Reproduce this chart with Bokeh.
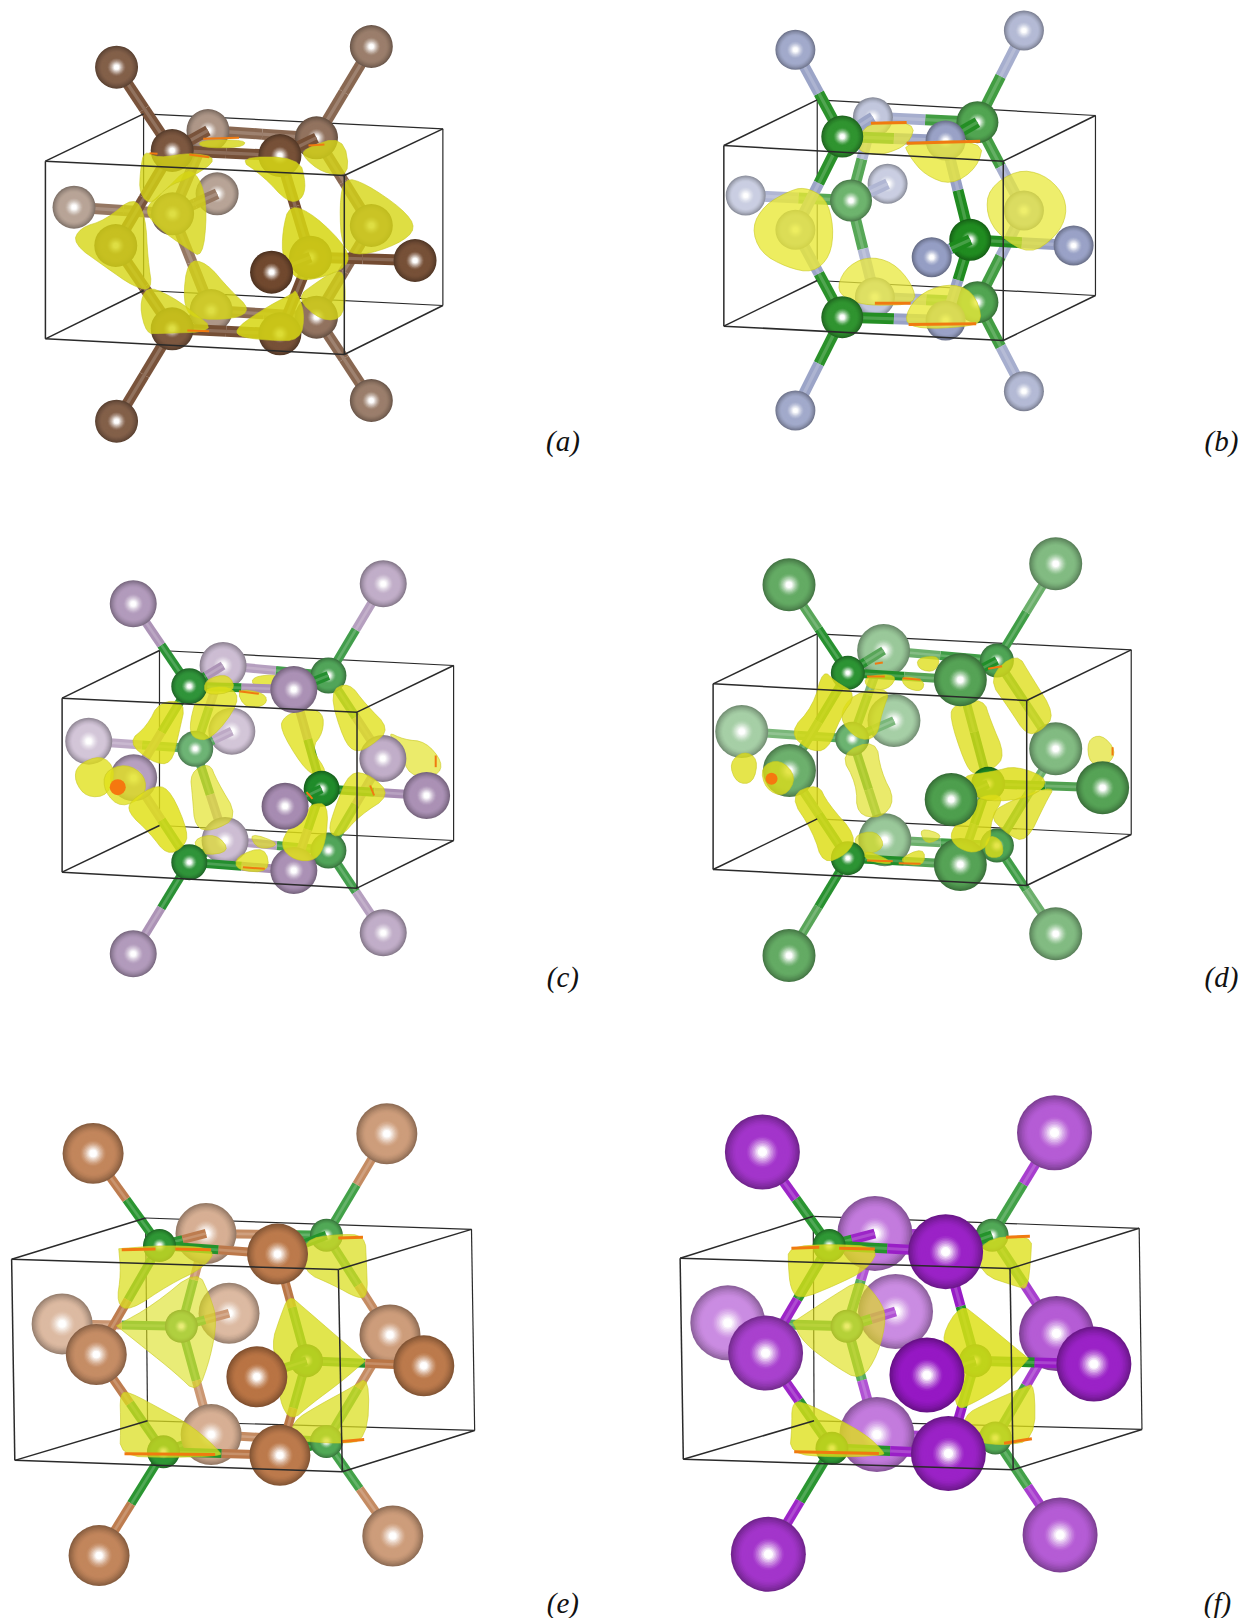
# -*- coding: utf-8 -*-
from bokeh.core.properties import value
from bokeh.embed import file_html
from bokeh.plotting import figure
from bokeh.resources import INLINE

# atoms are always listed in this order, x1-x14 are the halide/pnictide sites, g1-g6 the ones bonded to 4 of them
atom_names = ["x1", "x2", "x3", "x4", "x5", "x6", "x7", "x8", "x9", "x10", "x11", "x12", "x13", "x14",
              "g1", "g2", "g3", "g4", "g5", "g6"]
bond_pairs = [("g1", "x1"), ("g1", "x5"), ("g1", "x6"), ("g1", "x9"),
              ("g2", "x2"), ("g2", "x5"), ("g2", "x6"), ("g2", "x10"),
              ("g3", "x5"), ("g3", "x7"), ("g3", "x8"), ("g3", "x13"),
              ("g4", "x6"), ("g4", "x11"), ("g4", "x12"), ("g4", "x14"),
              ("g5", "x3"), ("g5", "x9"), ("g5", "x13"), ("g5", "x14"),
              ("g6", "x4"), ("g6", "x10"), ("g6", "x13"), ("g6", "x14")]
# these point at the viewer, so they lie over the far atom
stub_bonds = [("g1", "x5"), ("g2", "x6"), ("g3", "x8"), ("g4", "x11")]
# depth of each atom, 0 is far away, 10 is nearest
atom_depth = [6, 3, 6, 3, 1, 8, 0, 0, 5, 3, 10, 8, 1, 8,
              7, 4, 2, 9, 7, 4]

# (a)
a_x = [292, 933, 292, 933, 522, 703, 185, 545, 290, 933, 682, 1043, 530, 703,
       432, 795, 433, 780, 432, 795]
a_y = [200, 138, 1262, 1200, 390, 465, 620, 580, 735, 675, 815, 780, 930, 1000,
       450, 412, 640, 770, 985, 950]
a_front = [(113, 482), (865, 525), (865, 1062), (113, 1015)]
a_back = [(360, 340), (1113, 385), (1113, 915), (360, 870)]
a_lobes = [
    (5.5, [(330, 610), (355, 660), (360, 770), (370, 850), (330, 840), (270, 790), (200, 730), (215, 690), (270, 670)]),
    (5.5, [(470, 520), (500, 560), (510, 640), (500, 750), (470, 730), (400, 670), (375, 625), (420, 580)]),
    (5.5, [(480, 795), (520, 800), (570, 870), (615, 920), (580, 945), (490, 945), (470, 900)]),
    (7.5, [(375, 870), (420, 890), (470, 930), (525, 985), (400, 990), (375, 990), (360, 920)]),
    (7.5, [(370, 460), (400, 480), (470, 465), (530, 480), (470, 530), (420, 550), (385, 600), (360, 570), (362, 510)]),
    (9.5, [(610, 480), (745, 480), (760, 550), (750, 590), (720, 595), (670, 530)]),
    (9.5, [(735, 630), (790, 660), (860, 745), (860, 790), (800, 820), (750, 825), (720, 770), (720, 700)]),
    (9.5, [(735, 880), (755, 940), (745, 1010), (680, 1010), (610, 1000), (610, 975), (680, 920), (730, 890)]),
    (7.5, [(840, 820), (860, 830), (860, 940), (810, 950), (755, 890), (800, 850)]),
    (7.5, [(875, 550), (920, 565), (1000, 630), (1030, 680), (990, 720), (910, 750), (870, 730), (865, 620)]),
    (7.5, [(770, 450), (855, 415), (870, 520), (810, 510), (770, 470)]),
    (7.5, [(510, 420), (610, 420), (600, 440), (510, 440)]),
]
a_rims = [(375, 458, 395, 460), (475, 462, 525, 470), (510, 415, 600, 412), (775, 435, 815, 432), (470, 990, 525, 992)]
a_spots = []

# (b)
b_x = [440, 1015, 440, 1015, 635, 818, 315, 672, 440, 1015, 783, 1140, 640, 818,
       558, 898, 580, 880, 558, 898]
b_y = [148, 90, 1230, 1172, 350, 420, 585, 550, 688, 630, 770, 735, 890, 960,
       408, 365, 600, 718, 950, 905]
b_front = [(260, 435), (963, 482), (963, 1020), (260, 977)]
b_back = [(495, 298), (1195, 345), (1195, 885), (495, 840)]
b_lobes = [
    (9.5, [(460, 570), (510, 600), (528, 680), (520, 760), (480, 805), (420, 790), (360, 750), (340, 680), (370, 620), (420, 585)]),
    (7.5, [(1000, 518), (1060, 530), (1105, 580), (1115, 640), (1090, 700), (1030, 750), (960, 700), (930, 640), (935, 570)]),
    (6.5, [(620, 775), (680, 790), (725, 850), (735, 905), (640, 910), (590, 900), (552, 870), (570, 810)]),
    (9.5, [(820, 855), (880, 875), (905, 960), (860, 975), (760, 980), (720, 960), (750, 890)]),
    (9.5, [(720, 430), (905, 425), (890, 500), (830, 548), (770, 520), (735, 470)]),
    (6.5, [(620, 370), (735, 370), (720, 430), (660, 460), (620, 455), (600, 440)]),
]
b_rims = [(720, 428, 905, 422), (630, 368, 720, 366), (725, 972, 895, 970), (640, 908, 730, 908)]
b_spots = []

# (c)
c_x = [334, 963, 334, 963, 560, 738, 222, 582, 335, 962, 716, 1072, 565, 738,
       475, 825, 490, 808, 475, 825]
c_y = [250, 190, 1300, 1237, 435, 507, 662, 632, 772, 714, 857, 825, 960, 1050,
       497, 465, 685, 805, 1025, 990]
c_front = [(155, 533), (897, 575), (897, 1103), (155, 1055)]
c_back = [(400, 390), (1140, 435), (1140, 960), (400, 915)]
c_lobes = [
    (9.5, [(400, 560), (455, 560), (440, 640), (425, 715), (385, 710), (335, 660), (375, 620)]),
    (6.5, [(505, 520), (570, 510), (590, 550), (530, 645), (490, 640), (485, 600)]),
    (7.5, [(725, 600), (765, 580), (805, 590), (805, 640), (780, 680), (815, 740), (790, 750), (760, 720), (715, 630)]),
    (7.5, [(840, 530), (880, 505), (915, 560), (965, 620), (930, 660), (895, 680), (870, 650)]),
    (9.5, [(340, 850), (395, 810), (425, 830), (460, 930), (450, 965), (415, 985), (380, 930), (335, 880)]),
    (4.5, [(485, 770), (525, 745), (540, 790), (585, 880), (530, 915), (495, 905), (490, 830)]),
    (9.5, [(780, 865), (815, 865), (810, 960), (790, 1005), (745, 1005), (715, 970), (735, 920), (770, 890)]),
    (7.5, [(880, 770), (925, 780), (965, 830), (900, 880), (860, 935), (835, 920), (850, 860)]),
    (2.5, [(985, 645), (1020, 665), (1065, 670), (1100, 720), (1090, 755), (1030, 755), (1015, 690)]),
    (5.5, [(200, 740), (250, 715), (280, 750), (265, 815), (220, 820), (195, 780)]),
    (5.5, [(270, 760), (315, 740), (355, 770), (355, 820), (305, 850), (270, 810)]),
    (7.5, [(520, 480), (570, 465), (585, 510), (520, 520)]),
    (5.5, [(640, 470), (695, 465), (690, 490), (640, 495)]),
    (7.5, [(600, 510), (660, 520), (665, 550), (620, 560)]),
    (4.5, [(490, 960), (540, 945), (570, 990), (510, 1000)]),
    (4.5, [(630, 940), (700, 970), (650, 985)]),
    (7.5, [(600, 1010), (660, 985), (670, 1050), (600, 1045)]),
]
c_rims = [(600, 512, 650, 520), (1095, 705, 1095, 740), (610, 1040, 665, 1045), (770, 815, 785, 835), (930, 795, 940, 825)]
c_spots = [(295, 800, 8)]

# (d)
d_x = [424, 1095, 424, 1095, 662, 855, 305, 688, 425, 1095, 832, 1213, 665, 855,
       572, 947, 583, 925, 572, 947]
d_y = [193, 130, 1305, 1240, 390, 478, 633, 600, 750, 685, 837, 802, 958, 1032,
       457, 420, 655, 790, 1013, 975]
d_front = [(233, 490), (1022, 540), (1022, 1095), (233, 1047)]
d_back = [(495, 340), (1285, 388), (1285, 942), (495, 895)]
d_lobes = [
    (9.5, [(510, 470), (535, 500), (580, 530), (545, 590), (520, 670), (480, 670), (440, 625), (490, 560)]),
    (6.5, [(590, 530), (670, 515), (650, 580), (640, 640), (600, 645), (560, 590)]),
    (7.5, [(850, 570), (910, 555), (925, 610), (955, 695), (930, 730), (890, 745), (870, 710), (840, 600)]),
    (7.5, [(940, 485), (1000, 420), (1030, 480), (1080, 575), (1050, 615), (1020, 625), (985, 560)]),
    (4.5, [(565, 715), (640, 680), (650, 760), (680, 830), (650, 875), (600, 865), (600, 790)]),
    (9.5, [(440, 840), (500, 810), (520, 860), (580, 940), (560, 985), (510, 1010), (490, 930)]),
    (9.5, [(905, 840), (955, 840), (925, 900), (925, 960), (890, 985), (850, 965), (840, 930), (880, 880)]),
    (7.5, [(940, 880), (1000, 840), (1080, 810), (1060, 850), (1020, 950), (980, 930)]),
    (9.5, [(875, 770), (940, 760), (990, 745), (1060, 780), (1020, 825), (930, 835), (890, 810)]),
    (5.5, [(280, 730), (310, 700), (340, 720), (330, 780), (295, 780)]),
    (5.5, [(360, 745), (400, 725), (435, 770), (410, 820), (370, 800)]),
    (2.5, [(1180, 665), (1210, 650), (1240, 690), (1225, 725), (1185, 725)]),
    (7.5, [(750, 415), (800, 410), (790, 450), (755, 445)]),
    (7.5, [(620, 470), (690, 465), (670, 505), (625, 500)]),
    (7.5, [(710, 470), (760, 480), (755, 510), (720, 500)]),
    (4.5, [(590, 950), (640, 935), (660, 980), (610, 1000)]),
    (4.5, [(755, 925), (810, 945), (770, 970)]),
    (7.5, [(620, 990), (690, 1030), (620, 1020)]),
    (7.5, [(700, 1020), (760, 985), (760, 1035)]),
    (7.5, [(925, 950), (955, 960), (960, 1005), (920, 1005)]),
]
d_rims = [(925, 445, 960, 437), (1238, 680, 1238, 705), (620, 468, 665, 468), (710, 473, 755, 478), (640, 430, 660, 426), (620, 1020, 685, 1022), (700, 1028, 755, 1030)]
d_spots = [(380, 775, 6)]

# (e)
e_x = [233, 972, 248, 987, 517, 697, 155, 575, 241, 980, 645, 1065, 530, 703,
       400, 820, 455, 770, 410, 820]
e_y = [212, 155, 1382, 1325, 445, 505, 708, 677, 797, 740, 862, 830, 1030, 1090,
       480, 450, 715, 815, 1080, 1050]
e_front = [(28, 520), (850, 550), (860, 1138), (36, 1105)]
e_back = [(365, 400), (1185, 433), (1193, 1018), (370, 990)]
e_lobes = [
    (7.5, [(305, 495), (305, 495), (420, 485), (530, 495), (500, 545), (420, 590), (330, 660), (300, 640), (310, 560)]),
    (4.5, [(305, 715), (305, 715), (390, 660), (490, 565), (520, 640), (535, 700), (520, 800), (490, 895), (440, 840), (370, 775)]),
    (9.5, [(730, 640), (760, 670), (820, 730), (905, 815), (905, 815), (850, 870), (780, 930), (735, 975), (708, 920), (710, 850), (690, 770), (710, 700)]),
    (7.5, [(770, 470), (850, 455), (912, 458), (915, 530), (918, 620), (895, 625), (840, 590), (770, 555)]),
    (7.5, [(310, 920), (330, 915), (410, 965), (480, 1010), (540, 1075), (540, 1085), (420, 1090), (310, 1085), (312, 1000)]),
    (7.5, [(920, 870), (915, 1040), (850, 1050), (740, 1040), (745, 990), (800, 950), (880, 900)]),
]
e_rims = [(305, 492, 390, 490), (440, 490, 530, 492), (850, 458, 912, 456), (312, 1086, 540, 1088), (860, 1050, 915, 1044)]
e_spots = []

# (f)
f_x = [357, 1092, 372, 1106, 640, 818, 270, 692, 365, 1097, 771, 1191, 645, 825,
       525, 935, 570, 893, 532, 943]
f_y = [208, 152, 1378, 1322, 445, 498, 705, 672, 793, 736, 857, 825, 1030, 1085,
       480, 450, 715, 815, 1070, 1040]
f_front = [(150, 517), (980, 547), (988, 1132), (158, 1102)]
f_back = [(485, 395), (1305, 430), (1312, 1015), (487, 990)]
f_lobes = [
    (7.5, [(430, 490), (525, 482), (640, 490), (610, 550), (540, 590), (455, 630), (435, 600), (430, 540)]),
    (4.5, [(445, 705), (445, 705), (530, 640), (600, 590), (640, 640), (660, 690), (640, 790), (600, 860), (540, 820), (470, 760)]),
    (9.5, [(860, 665), (900, 700), (1015, 810), (1015, 810), (960, 880), (885, 930), (850, 945), (845, 880), (835, 800), (815, 750)]),
    (7.5, [(910, 470), (1030, 455), (1028, 520), (1020, 600), (1000, 595), (910, 560)]),
    (7.5, [(440, 950), (460, 940), (540, 985), (610, 1030), (650, 1075), (650, 1085), (530, 1090), (435, 1080), (440, 1010)]),
    (7.5, [(1035, 890), (1035, 1040), (960, 1055), (880, 1040), (870, 975), (930, 940), (1010, 900)]),
]
f_rims = [(430, 488, 500, 485), (550, 488, 640, 490), (970, 456, 1030, 453), (437, 1080, 650, 1085), (965, 1055, 1035, 1042)]
f_spots = []

panel_labels = ["(a)", "(b)", "(c)", "(d)", "(e)", "(f)"]
label_x = [1415, 1512, 1415, 1512, 1415, 1502]
label_y = [1322, 1322, 1370, 1368, 1520, 1520]

X_COLORS = ["#71492f", "#959ec4", "#a78cb2", "#4e9f4e", "#b97444", "#9618c4"]
G_COLORS = ["#71492f", "#1d8a1d", "#1d8a28", "#1a8a22", "#1d8f24", "#1d8f24"]
X_RADIUS = [21.5, 20, 23.5, 26.5, 30.5, 37.5]
G_RADIUS = [21.5, 21, 18, 17, 16.5, 16.5]
BOND_WIDTH = [11, 11, 9, 9, 9, 10]
LOBE_FILL = ["#d6d614", "#e8e838", "#e0e018", "#dede18", "#dadf20", "#dee018"]
LOBE_ALPHA = [0.8, 0.74, 0.78, 0.78, 0.74, 0.78]
LOBE_GROW = [1.18, 1.1, 1.22, 1.22, 1.1, 1.1]
RIM_WIDTH = [2, 3, 2, 2, 3, 3]
ORIGINS = [(0, 0), (620, 0), (0, 520), (620, 520), (0, 1080), (620, 1080)]
Y_SCALE = [3.0, 3.0, 3.0, 3.0, 2.909, 2.909]
X_SCALE = 2.516
FOG = 0.5


def rgb(c):
    return tuple(int(c[i:i + 2], 16) for i in (1, 3, 5))


def mix(c, other, t):
    return tuple(c[i] * (1 - t) + other[i] * t for i in range(3))


def tohex(c):
    return "#%02x%02x%02x" % tuple(int(round(max(0, min(255, v)))) for v in c)


def fogged(color, z, fog=FOG):
    return mix(rgb(color), (255, 255, 255), fog * ((10 - min(z, 10)) / 10.0) ** 1.5)


def smooth(pts, grow, n=2):
    # rounds the traced outline a bit, pushed out first so that it keeps its size
    cx = sum(q[0] for q in pts) / float(len(pts))
    cy = sum(q[1] for q in pts) / float(len(pts))
    pts = [(cx + (q[0] - cx) * grow, cy + (q[1] - cy) * grow) for q in pts]
    for _ in range(n):
        out = []
        for i in range(len(pts)):
            a, b = pts[i], pts[(i + 1) % len(pts)]
            out.append((a[0] * 0.75 + b[0] * 0.25, a[1] * 0.75 + b[1] * 0.25))
            out.append((a[0] * 0.25 + b[0] * 0.75, a[1] * 0.25 + b[1] * 0.75))
        pts = out
    return pts


RINGS = [1.0 - k / 24.0 for k in range(24)]


def ring_colors(base):
    out = []
    for t in RINGS:
        if t > 0.7:
            c = mix(base, (0, 0, 0), ((t - 0.7) / 0.3) ** 1.5 * 0.3)
        elif t > 0.45:
            c = base
        else:
            c = mix(base, (255, 255, 255), min(1.0, (0.45 - t) / 0.33) ** 1.3)
        out.append(tohex(c))
    return out


p = figure(width=1240, height=1618, x_range=(0, 1240), y_range=(1618, 0),
           output_backend="svg", toolbar_location=None, min_border=0)
p.axis.visible = False
p.grid.visible = False
p.outline_line_color = None
p.background_fill_color = "white"


def draw_panel(i, xs, ys, front, back, lobes, rims, spots):
    ox, oy = ORIGINS[i]
    ys_scale = Y_SCALE[i]

    def px(v):
        return ox + v / X_SCALE

    def py(v):
        return oy + v / ys_scale

    pos = {n: (px(xs[k]), py(ys[k])) for k, n in enumerate(atom_names)}
    depth = dict(zip(atom_names, atom_depth))
    items = []

    def box_lines(pairs, width):
        for a, b in pairs:
            p.line([px(a[0]), px(b[0])], [py(a[1]), py(b[1])], line_color="#2a2a2a", line_width=width)

    for n in atom_names:
        color = X_COLORS[i] if n[0] == "x" else G_COLORS[i]
        r = X_RADIUS[i] if n[0] == "x" else G_RADIUS[i]
        items.append((depth[n], "atom", (pos[n], r, color, depth[n])))

    for g, x in bond_pairs:
        if (g, x) in stub_bonds:
            z = max(depth[g], depth[x]) - 0.5
        else:
            z = min(depth[g], depth[x]) - 0.5
        items.append((z, "bond", (pos[g], pos[x], max(depth[g], depth[x]))))

    for z, pts in lobes:
        items.append((z, "lobe", (z, pts)))

    for r in rims:
        items.append((9.6, "rim", r))

    items.sort(key=lambda it: it[0])

    # far side of the cell is behind everything
    box_lines([(back[0], back[1]), (back[1], back[2]), (back[2], back[3]), (back[3], back[0])], 1.2)

    for z, kind, data in items:
        if kind == "atom":
            (x, y), r, color, dz = data
            base = fogged(color, dz)
            p.circle(x=[x] * len(RINGS), y=[y] * len(RINGS), radius=[r * t for t in RINGS],
                     fill_color=ring_colors(base), line_color=None)
        elif kind == "bond":
            a, b, bz = data
            mx, my = (a[0] + b[0]) / 2.0, (a[1] + b[1]) / 2.0
            w = BOND_WIDTH[i]
            cg = fogged(G_COLORS[i], bz, 0.35)
            cx = fogged(X_COLORS[i], bz, 0.35)
            p.segment(x0=[a[0], a[0], mx, mx], y0=[a[1], a[1], my, my],
                      x1=[mx, mx, b[0], b[0]], y1=[my, my, b[1], b[1]],
                      line_color=[tohex(cg), tohex(mix(cg, (255, 255, 255), 0.18)),
                                  tohex(cx), tohex(mix(cx, (255, 255, 255), 0.18))],
                      line_width=[w, w * 0.3, w, w * 0.3])
        elif kind == "lobe":
            lz, raw = data
            pts = smooth(raw, LOBE_GROW[i])
            # far lobes look paler, near ones stronger
            alpha = LOBE_ALPHA[i] * (0.82 if lz < 5 else (1.08 if lz > 9 else 1.0))
            p.patch([px(q[0]) for q in pts], [py(q[1]) for q in pts], fill_color=LOBE_FILL[i],
                    fill_alpha=alpha, line_color="#c8c820", line_alpha=0.6, line_width=1)
        else:
            p.segment(x0=[px(data[0])], y0=[py(data[1])], x1=[px(data[2])], y1=[py(data[3])],
                      line_color="#f07a10", line_width=RIM_WIDTH[i])

    for sx, sy, sr in spots:
        p.circle(x=[px(sx)], y=[py(sy)], radius=[sr], fill_color="#f5780f", line_color=None)

    # the near side and the four joining edges lie over the picture
    box_lines([(front[0], front[1]), (front[1], front[2]), (front[2], front[3]), (front[3], front[0]),
               (front[0], back[0]), (front[1], back[1]), (front[2], back[2]), (front[3], back[3])], 1.5)

    p.text(x=[px(label_x[i])], y=[py(label_y[i])], text=[panel_labels[i]], text_align="center",
           text_baseline="middle", text_font=value("Liberation Serif"), text_font_style="italic",
           text_font_size="29px", text_color="#111111")


draw_panel(0, a_x, a_y, a_front, a_back, a_lobes, a_rims, a_spots)
draw_panel(1, b_x, b_y, b_front, b_back, b_lobes, b_rims, b_spots)
draw_panel(2, c_x, c_y, c_front, c_back, c_lobes, c_rims, c_spots)
draw_panel(3, d_x, d_y, d_front, d_back, d_lobes, d_rims, d_spots)
draw_panel(4, e_x, e_y, e_front, e_back, e_lobes, e_rims, e_spots)
draw_panel(5, f_x, f_y, f_front, f_back, f_lobes, f_rims, f_spots)

open("out.html", "w").write(file_html(p, INLINE))
